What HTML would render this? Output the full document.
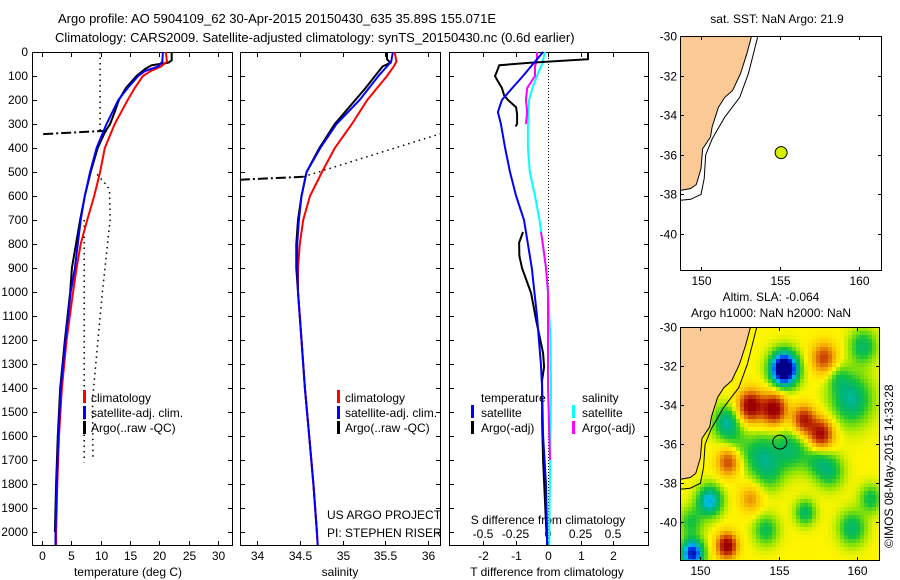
<!DOCTYPE html>
<html><head><meta charset="utf-8">
<style>
html,body{margin:0;padding:0;background:#fff;}
svg{display:block;font-family:"Liberation Sans",sans-serif;}
text{font-size:12px;fill:#000;}
.ttl{font-size:13px;}
</style></head>
<body>
<svg id="fig" width="900" height="580" viewBox="0 0 900 580" xmlns="http://www.w3.org/2000/svg">
<text class="ttl" x="58" y="23">Argo profile: AO 5904109_62 30-Apr-2015 20150430_635 35.89S 155.071E</text>
<text class="ttl" x="55" y="42">Climatology: CARS2009. Satellite-adjusted climatology: synTS_20150430.nc (0.6d earlier)</text>
<g id="p1"></g>
<g id="p2"></g>
<g id="p3"></g>
<g id="m1"></g>
<g id="m2"></g>
<text transform="translate(893,548) rotate(-90)" style="font-size:12px">©IMOS 08-May-2015 14:33:28</text>
</svg>
<script>
// ---------- data ----------
const depthTClim = [0,40,60,80,100,150,200,300,400,500,600,700,800,900,1000,1200,1400,1600,1800,2000,2054];
const tempClim = [21.1,21.3,20.3,18.5,17.2,15.8,14.6,12.4,10.7,9.9,8.9,7.7,6.6,5.9,5.3,4.2,3.4,2.9,2.6,2.4,2.4];
const tempSat = [20.6,20.5,19.8,17.5,16.4,14.6,13.0,11.0,9.3,8.2,7.3,6.6,6.1,5.6,4.9,4.0,3.2,2.8,2.5,2.3,2.3];
const depthTArgo = [0,35,45,55,70,100,150,200,250,300,330,400,500,600,700,800,900,1000,1200,1400,1600,1800,2000];
const tempArgo = [22.1,22.1,21.5,18.7,17.6,16.1,14.3,13.1,12.4,11.6,10.8,9.5,8.3,7.3,6.5,5.8,5.1,4.8,3.9,3.1,2.7,2.4,2.2];
const depthTQc = [342,328];
const tempQc = [0.2,11.1];
const depthTDot1 = [0,325];
const tempDot1 = [9.9,9.9];
const depthTDot2 = [510,560,580,700,1000,1450,1700];
const tempDot2 = [9.4,11.2,11.5,11.6,10.3,8.6,8.7];
const depthTDot3 = [700,1710];
const tempDot3 = [7.2,7.2];

const depthS = [0,40,60,100,200,300,400,500,600,700,800,900,1000,1200,1400,1600,1800,2000,2054];
const salClim = [35.61,35.63,35.6,35.52,35.29,35.11,34.91,34.76,34.62,34.54,34.5,34.48,34.48,34.52,34.56,34.61,34.66,34.7,34.71];
const salSat = [35.59,35.57,35.52,35.42,35.2,34.93,34.74,34.58,34.52,34.49,34.47,34.47,34.48,34.52,34.56,34.61,34.66,34.7,34.71];
const depthSArgo = [0,30,45,60,100,150,200,300,400,500,600,700,800,900,1000,1200,1400,1600,1800,2000];
const salArgo = [35.52,35.52,35.56,35.47,35.38,35.27,35.15,34.91,34.73,34.58,34.52,34.48,34.46,34.46,34.48,34.52,34.56,34.61,34.66,34.7];
const depthSQc = [532,520];
const salQc = [33.8,34.54];
const depthSDot = [520,340];
const salDot = [34.54,36.15];

const depthDT = [0,50,100,150,200,250,300,400,500,600,700,800,900,1000,1100,1200,1300,1400,1600,1800,2000,2054];
const tDiffSat = [-0.15,-0.46,-0.77,-1.1,-1.42,-1.54,-1.45,-1.32,-1.17,-0.98,-0.74,-0.62,-0.5,-0.42,-0.34,-0.28,-0.22,-0.18,-0.15,-0.06,-0.03,-0.03];
const depthDTArgoA = [0,30,45,55,80,100,120,150,180,200,230,260,300,310];
const tDiffArgoA = [1.23,1.23,-0.55,-1.5,-1.57,-1.63,-1.55,-1.42,-1.35,-1.23,-0.98,-0.95,-0.95,-1.0];
const depthDTArgoB = [750,795,850,900,1005,1115,1255,1312,1367,1540,1700,2000];
const tDiffArgoB = [-0.77,-0.89,-0.88,-0.8,-0.52,-0.37,-0.15,-0.12,-0.18,-0.18,-0.15,-0.05];
const depthDS = [0,50,100,150,200,300,400,500,600,700,800,900,1000,1200,1400,2000,2054];
const sDiffSat = [-0.023,-0.046,-0.085,-0.12,-0.145,-0.155,-0.155,-0.14,-0.1,-0.065,-0.04,-0.015,0,0.02,0.023,0.01,0.01];
const depthDSArgoA = [0,30,60,100,150,200,250,300];
const sDiffArgoA = [-0.085,-0.085,-0.1,-0.1,-0.16,-0.17,-0.16,-0.17];
const depthDSArgoB = [750,800,900,1000,1200,1400,1700];
const sDiffArgoB = [-0.054,-0.04,-0.015,0,0,0,0.015];

const depthTicks = [0,100,200,300,400,500,600,700,800,900,1000,1100,1200,1300,1400,1500,1600,1700,1800,1900,2000];
const tempTicks = [0,5,10,15,20,25,30];
const salTicks = [34,34.5,35,35.5,36];
const salTickLabels = ['34','34.5','35','35.5','36'];
const tDiffTicks = [-2,-1,0,1,2];
const sDiffTicks = [-0.5,-0.25,0,0.25,0.5];
const sDiffTickLabels = ['-0.5','-0.25','0','0.25','0.5'];

const coastLon = [153.2,152.9,152.5,152.0,151.5,151.1,150.7,150.6,150.1,150.0,149.7,149.35,148.7,148.0];
const coastLat = [-30.0,-30.9,-31.9,-32.75,-33.1,-33.6,-34.6,-35.1,-35.7,-36.7,-37.5,-37.7,-37.8,-37.8];
const isoLon = [153.6,153.0,152.45,151.5,150.7,150.3,150.2,150.0,149.35,148.7];
const isoLat = [-30.0,-31.9,-33.1,-34.1,-35.2,-36.0,-37.2,-38.0,-38.25,-38.3];
const argoLon = [155.071];
const argoLat = [-35.89];
const lonTicks = [150,155,160];
const latTicks = [-30,-32,-34,-36,-38,-40];
// SLA field as blobs: lon, lat, amplitude, sigma(deg)
const blobLon = [155.36,153.2,154.7,156.6,157.7,157.9,151.8,151.7,153.2,151.7,153.9,155.8,159.65,160.4,150.6,149.5,159.7,156.7,154.2,160.9,158.3,149.4,152.3,154.5,157.5,151.2,158.8];
const blobLat = [-32.15,-34.05,-34.2,-34.75,-35.5,-31.6,-36.9,-41.2,-38.8,-34.9,-36.6,-36.3,-33.7,-31.0,-38.9,-41.6,-40.3,-39.5,-40.4,-38.8,-37.4,-40.0,-36.0,-37.6,-36.8,-30.8,-32.6];
const blobAmp = [-1.35,0.95,0.95,0.75,0.85,0.6,0.6,0.95,0.35,-0.5,-0.42,-0.38,-0.5,-0.4,-0.65,-0.95,-0.42,-0.4,-0.35,-0.35,-0.35,-0.3,-0.15,-0.2,-0.3,-0.15,-0.2];
const blobSig = [0.6,0.55,0.55,0.5,0.55,0.55,0.5,0.45,0.5,0.6,0.8,0.75,0.9,0.6,0.55,0.5,0.6,0.45,0.55,0.5,0.6,0.55,0.6,0.6,0.6,0.6,0.5];

// ---------- helpers ----------
const NS='http://www.w3.org/2000/svg';
function mk(parent,tag,attrs,txt){const e=document.createElementNS(NS,tag);for(const k in attrs)e.setAttribute(k,attrs[k]);if(txt!==undefined)e.textContent=txt;parent.appendChild(e);return e;}
function lin(d0,d1,r0,r1){return v=>r0+(v-d0)/(d1-d0)*(r1-r0);}
const yDepth = lin(0,2000,52,532);
const PT=52,PB=545;

function line(g,xs,ys,fx,fy,color,width,dash,name){
  const pts=xs.map((v,i)=>fx(v).toFixed(1)+','+fy(ys[i]).toFixed(1)).join(' ');
  const p=mk(g,'polyline',{points:pts,fill:'none',stroke:color,'stroke-width':width});
  if(dash)p.setAttribute('stroke-dasharray',dash);
  
  
  return p;
}
function frame(g,x0,x1,name){
  const r=mk(g,'rect',{x:x0+0.5,y:PT+0.5,width:x1-x0,height:PB-PT,fill:'none',stroke:'#000','stroke-width':1});
  
  
  depthTicks.forEach(d=>{const y=Math.round(yDepth(d))+0.5;
    mk(g,'line',{x1:x0,y1:y,x2:x0+5,y2:y,stroke:'#000'});
    mk(g,'line',{x1:x1-4,y1:y,x2:x1+1,y2:y,stroke:'#000'});});
}
function xticks(g,ticks,labels,fx,x0,x1,showLab){
  ticks.forEach((t,i)=>{const x=Math.round(fx(t))+0.5;
    mk(g,'line',{x1:x,y1:PT,x2:x,y2:PT+5,stroke:'#000'});
    mk(g,'line',{x1:x,y1:PB-4,x2:x,y2:PB+1,stroke:'#000'});
    if(showLab){const tx=mk(g,'text',{x:x,y:PB+15,'text-anchor':'middle'},labels[i]);
      
      }
  });
}
function legendBar(g,x,y,color){mk(g,'rect',{x:x,y:y,width:3,height:13,fill:color});}
function txt(g,x,y,s,name,anchor){const t=mk(g,'text',{x:x,y:y,'text-anchor':anchor||'start'},s);
  
  
  return t;}

// ---------- panel 1 ----------
(function(){
  const g=document.getElementById('p1');
  const fx=lin(0,30,42,218);
  frame(g,32,232,'temperature-frame');
  depthTicks.forEach(d=>{const t=mk(g,'text',{x:28,y:yDepth(d)+4,'text-anchor':'end'},String(d));
    
    });
  xticks(g,tempTicks,tempTicks.map(String),fx,32,232,true);
  txt(g,128,576,'temperature (deg C)','x-axis-title','middle');
  line(g,tempQc,depthTQc,fx,yDepth,'#000',2,'10 3 2 3','temp-raw-qc');
  line(g,tempDot1,depthTDot1,fx,yDepth,'#000',1.5,'1.5 4','temp-raw-dotted-1');
  line(g,tempDot2,depthTDot2,fx,yDepth,'#000',1.5,'1.5 4','temp-raw-dotted-2');
  line(g,tempDot3,depthTDot3,fx,yDepth,'#000',1.5,'1.5 4','temp-raw-dotted-3');
  line(g,tempArgo,depthTArgo,fx,yDepth,'#000',2,null,'temp-argo');
  line(g,tempClim,depthTClim,fx,yDepth,'#ff0000',2,null,'temp-climatology');
  line(g,tempSat,depthTClim,fx,yDepth,'#0000ff',2,null,'temp-satellite-adj');
  const lg=mk(g,'g',{});
  legendBar(lg,83,390,'#ff0000');legendBar(lg,83,406,'#0000ff');legendBar(lg,83,421,'#000');
  txt(lg,91,402,'climatology','legend-climatology');
  txt(lg,91,417,'satellite-adj. clim.','legend-satellite');
  txt(lg,91,432,'Argo(..raw -QC)','legend-argo');
})();

// ---------- panel 2 ----------
(function(){
  const g=document.getElementById('p2');
  const fx=lin(34,36,257,428);
  frame(g,240,440,'salinity-frame');
  xticks(g,salTicks,salTickLabels,fx,240,440,true);
  txt(g,340,576,'salinity','x-axis-title','middle');
  line(g,salQc,depthSQc,fx,yDepth,'#000',2,'10 3 2 3','sal-raw-qc');
  line(g,salDot,depthSDot,fx,yDepth,'#000',1.5,'1.5 4','sal-raw-dotted');
  line(g,salArgo,depthSArgo,fx,yDepth,'#000',2,null,'sal-argo');
  line(g,salClim,depthS,fx,yDepth,'#ff0000',2,null,'sal-climatology');
  line(g,salSat,depthS,fx,yDepth,'#0000ff',2,null,'sal-satellite-adj');
  const lg=mk(g,'g',{});
  legendBar(lg,337,390,'#ff0000');legendBar(lg,337,406,'#0000ff');legendBar(lg,337,421,'#000');
  txt(lg,345,402,'climatology','legend-climatology');
  txt(lg,345,417,'satellite-adj. clim.','legend-satellite');
  txt(lg,345,432,'Argo(..raw -QC)','legend-argo');
  txt(g,327,519,'US ARGO PROJECT','project-label');
  txt(g,327,537,'PI: STEPHEN RISER','pi-label');
})();

// ---------- panel 3 ----------
(function(){
  const g=document.getElementById('p3');
  const fx=lin(-2,2,483,613);
  const fs=lin(-0.5,0.5,483,613);
  frame(g,449,648,'difference-frame');
  xticks(g,tDiffTicks,tDiffTicks.map(String),fx,449,648,true);
  txt(g,547,576,'T difference from climatology','x-axis-title','middle');
  mk(g,'line',{x1:548.5,y1:PT,x2:548.5,y2:PB,stroke:'#000','stroke-dasharray':'1 2'});
  txt(g,548,524,'S difference from climatology','s-axis-title','middle');
  sDiffTicks.forEach((t,i)=>txt(g,fs(t),538,sDiffTickLabels[i],'s-tick-label','middle'));
  line(g,sDiffSat,depthDS,fs,yDepth,'#00ffff',2,null,'sdiff-satellite');
  line(g,sDiffArgoA,depthDSArgoA,fs,yDepth,'#ff00ff',2,null,'sdiff-argo-upper');
  line(g,sDiffArgoB,depthDSArgoB,fs,yDepth,'#ff00ff',2,null,'sdiff-argo-lower');
  line(g,tDiffArgoA,depthDTArgoA,fx,yDepth,'#000',2,null,'tdiff-argo-upper');
  line(g,tDiffArgoB,depthDTArgoB,fx,yDepth,'#000',2,null,'tdiff-argo-lower');
  line(g,tDiffSat,depthDT,fx,yDepth,'#0000ff',2,null,'tdiff-satellite');
  const lg=mk(g,'g',{});
  txt(lg,481,402,'temperature','legend-temperature-heading');
  txt(lg,582,402,'salinity','legend-salinity-heading');
  legendBar(lg,471,405,'#0000ff');legendBar(lg,471,421,'#000');
  legendBar(lg,572,405,'#00ffff');legendBar(lg,572,421,'#ff00ff');
  txt(lg,481,417,'satellite','legend-t-satellite');
  txt(lg,481,432,'Argo(-adj)','legend-t-argo');
  txt(lg,582,417,'satellite','legend-s-satellite');
  txt(lg,582,432,'Argo(-adj)','legend-s-argo');
})();

// ---------- maps ----------
function slaColor(v){
  const st=[[-1.0,[0,0,140]],[-0.8,[0,64,255]],[-0.62,[0,190,230]],[-0.45,[0,180,120]],[-0.3,[20,195,60]],[-0.13,[150,230,0]],[0,[255,245,0]],[0.2,[250,200,0]],[0.4,[230,130,0]],[0.6,[200,60,0]],[0.85,[160,0,0]],[1.2,[130,0,0]]];
  if(v<=st[0][0])return 'rgb('+st[0][1]+')';
  for(let i=1;i<st.length;i++){if(v<=st[i][0]){const a=st[i-1],b=st[i],f=(v-a[0])/(b[0]-a[0]);
    return 'rgb('+a[1].map((c,k)=>Math.round(c+(b[1][k]-c)*f)).join(',')+')';}}
  return 'rgb('+st[st.length-1][1]+')';
}
function drawMap(id,x0,x1,y0,y1,fx,fy,withField,name){
  const g=document.getElementById(id);
  const cid='clip-'+id;
  const defs=mk(g,'defs',{});const cp=mk(defs,'clipPath',{id:cid});mk(cp,'rect',{x:x0,y:y0,width:x1-x0,height:y1-y0});
  const inner=mk(g,'g',{'clip-path':'url(#'+cid+')'});
  mk(inner,'rect',{x:x0,y:y0,width:x1-x0,height:y1-y0,fill:'#fff'});
  if(withField){
    const fg=mk(inner,'g',{});
    const lonOf=lin(x0,x1,fx.inv(x0),fx.inv(x1)), latOf=lin(y0,y1,fy.inv(y0),fy.inv(y1));
    const cs=4;
    for(let py=y0;py<y1;py+=cs){for(let px=x0;px<x1;px+=cs){
      const lo=lonOf(px+cs/2),la=latOf(py+cs/2);let v=0;
      for(let b=0;b<blobLon.length;b++){const dx=lo-blobLon[b],dy=la-blobLat[b];v+=blobAmp[b]*Math.exp(-(dx*dx+dy*dy)/(2*blobSig[b]*blobSig[b]));}
      mk(fg,'rect',{x:px,y:py,width:cs,height:cs,fill:slaColor(v)});
    }}
  }
  const landPts=coastLon.map((v,i)=>fx(v).toFixed(1)+','+fy(coastLat[i]).toFixed(1));
  landPts.push(fx(140).toFixed(1)+','+fy(-37.8).toFixed(1));
  landPts.push(fx(140).toFixed(1)+','+fy(-25).toFixed(1));
  landPts.push(fx(153.2).toFixed(1)+','+fy(-25).toFixed(1));
  const land=mk(inner,'polygon',{points:landPts.join(' '),fill:'#fbc995',stroke:'#000','stroke-width':1});
  
  
  const iso=line(inner,isoLon,isoLat,fx,fy,'#000',1,null,'isobath');
  argoLon.forEach((lo,i)=>{const c=mk(inner,'circle',{cx:fx(lo),cy:fy(argoLat[i]),r:withField?7:6,fill:withField?'none':'#d4f000',stroke:'#000','stroke-width':1});
    
    });
  const fr=mk(g,'rect',{x:x0+0.5,y:y0+0.5,width:x1-x0,height:y1-y0,fill:'none',stroke:'#000'});
  
  
  lonTicks.forEach(l=>{const x=Math.round(fx(l))+0.5;
    mk(g,'line',{x1:x,y1:y0,x2:x,y2:y0+4,stroke:'#000'});mk(g,'line',{x1:x,y1:y1-3,x2:x,y2:y1+1,stroke:'#000'});
    txt(g,x,y1+15,String(l),'lon-tick-label','middle');});
  latTicks.forEach(l=>{const y=Math.round(fy(l))+0.5;
    mk(g,'line',{x1:x0,y1:y,x2:x0+4,y2:y,stroke:'#000'});mk(g,'line',{x1:x1-3,y1:y,x2:x1+1,y2:y,stroke:'#000'});
    txt(g,x0-3,y+4,String(l),'lat-tick-label','end');});
}
function proj(d0,d1,r0,r1){const f=lin(d0,d1,r0,r1);f.inv=lin(r0,r1,d0,d1);return f;}
drawMap('m1',680,881,36,270,proj(150,160,701,859),proj(-30,-40,36,234),false,'sst-map');
drawMap('m2',680,879,327,560,proj(150,160,700.4,857),proj(-30,-40,327,522.4),true,'sla-map');
(function(){const s=document.getElementById('fig');
  txt(s,777,23,'sat. SST: NaN Argo: 21.9','sst-map-title','middle');
  txt(s,771,301,'Altim. SLA: -0.064','sla-map-title-1','middle');
  txt(s,771,317,'Argo h1000: NaN h2000: NaN','sla-map-title-2','middle');
})();
</script>
</body></html>
